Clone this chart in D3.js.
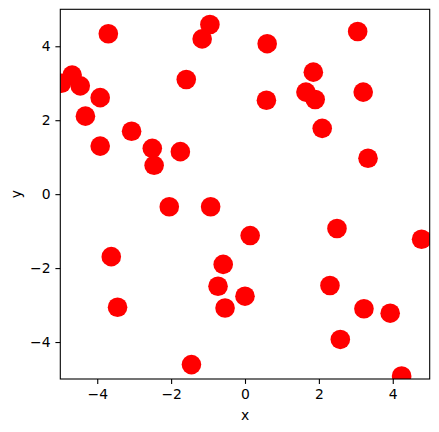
<!DOCTYPE html>
<html><head><meta charset="utf-8">
<script src="https://cdn.jsdelivr.net/npm/d3@7"></script>
<style>body{margin:0;background:#fff;} svg{display:block;} text{font-family:"DejaVu Sans",sans-serif;}</style>
</head><body>
<svg id="c" width="439" height="432"></svg>
<script>
const xs = [-3.70,-4.68,-4.46,-4.97,-3.92,-4.32,-3.92,-3.07,-2.51,-2.46,-1.75,-1.59,-1.16,-0.95,
  0.60,3.05,1.85,1.65,1.90,0.58,3.20,2.09,3.33,
  -2.05,-0.93,-3.62,-3.45,-1.45,
  0.14,2.49,4.78,-0.59,-0.73,0.00,-0.54,2.30,3.22,3.93,2.58,4.24];
const ys = [4.34,3.22,2.93,3.00,2.61,2.11,1.30,1.70,1.24,0.78,1.15,3.10,4.20,4.59,
  4.07,4.40,3.30,2.76,2.56,2.54,2.76,1.78,0.97,
  -0.34,-0.34,-1.69,-3.06,-4.61,
  -1.12,-0.93,-1.22,-1.90,-2.49,-2.76,-3.08,-2.47,-3.10,-3.22,-3.93,-4.92];
const xTicks = [-4,-2,0,2,4];
const yTicks = [-4,-2,0,2,4];
const xDomain = [-5,5], yDomain = [-5,5];

const L=60.3, R=429.7, T=9.3, B=379;
const svg = d3.select("#c");
const x = d3.scaleLinear().domain(xDomain).range([L,R]);
const y = d3.scaleLinear().domain(yDomain).range([B,T]);
const fmt = d => d<0 ? "\u2212"+Math.abs(d) : String(d);

svg.append("clipPath").attr("id","clip").append("rect")
  .attr("x",L).attr("y",T).attr("width",R-L).attr("height",B-T);

svg.append("g").attr("clip-path","url(#clip)")
  .selectAll("circle").data(xs.map((v,i)=>[v,ys[i]])).join("circle")
  .attr("cx",d=>x(d[0])).attr("cy",d=>y(d[1])).attr("r",9.8).attr("fill","#ff0000");

const gx = svg.append("g").attr("transform",`translate(0,${B})`)
  .call(d3.axisBottom(x).tickValues(xTicks).tickFormat(fmt).tickSize(4.9).tickPadding(4.9));
const gy = svg.append("g").attr("transform",`translate(${L},0)`)
  .call(d3.axisLeft(y).tickValues(yTicks).tickFormat(fmt).tickSize(4.9).tickPadding(4.9));
[gx,gy].forEach(g=>{
  g.select(".domain").remove();
  g.selectAll("line").attr("stroke","#000").attr("stroke-width",1.1);
  g.selectAll("text").attr("font-size",13.9).attr("fill","#000").attr("font-family","DejaVu Sans");
});

svg.append("rect").attr("x",L).attr("y",T).attr("width",R-L).attr("height",B-T)
  .attr("fill","none").attr("stroke","#000").attr("stroke-width",1.1);

svg.append("text").attr("x",(L+R)/2).attr("y",419.5).attr("text-anchor","middle")
  .attr("font-size",13.9).text("x");
svg.append("text").attr("transform",`translate(21,${(T+B)/2}) rotate(-90)`)
  .attr("text-anchor","middle").attr("font-size",13.9).text("y");
</script>
</body></html>
